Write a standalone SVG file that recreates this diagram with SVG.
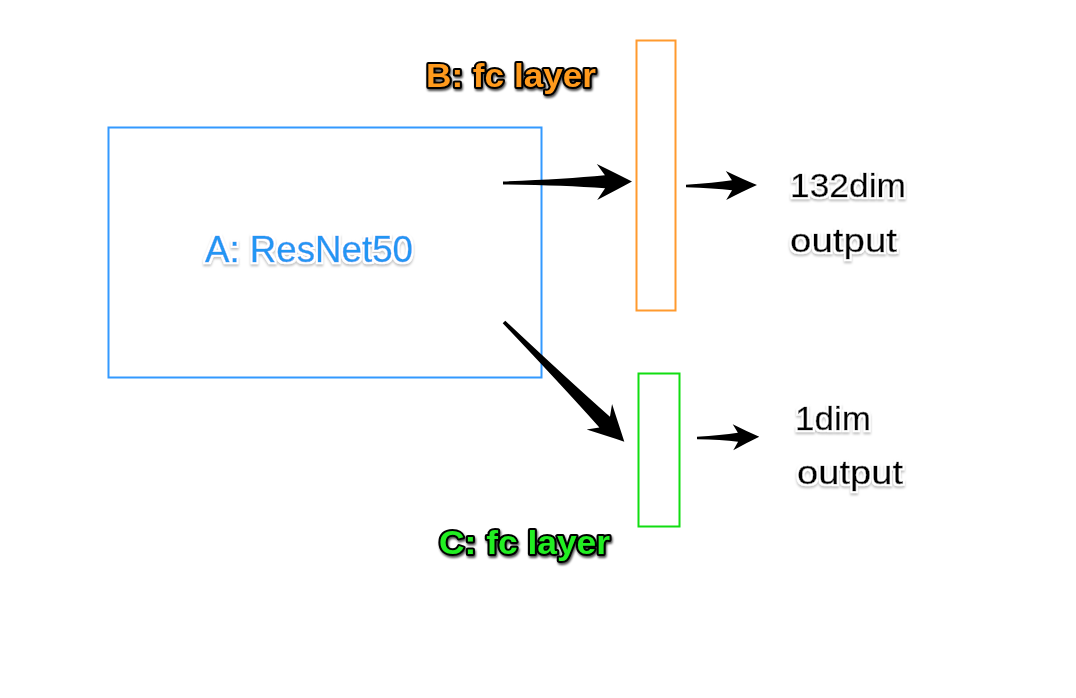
<svg xmlns="http://www.w3.org/2000/svg" width="1076" height="698" viewBox="0 0 1076 698">
<defs>
<filter id="halo" x="-10%" y="-30%" width="120%" height="160%">
<feMorphology in="SourceAlpha" operator="dilate" radius="2" result="d"/>
<feGaussianBlur in="d" stdDeviation="1" result="b"/>
<feOffset in="b" dx="0" dy="1.5" result="o"/>
<feFlood flood-color="#999" flood-opacity="0.6"/>
<feComposite in2="o" operator="in" result="sh"/>
<feFlood flood-color="#fff"/>
<feComposite in2="d" operator="in" result="wh"/>
<feMerge><feMergeNode in="sh"/><feMergeNode in="wh"/><feMergeNode in="SourceGraphic"/></feMerge>
</filter>
<filter id="dark" x="-10%" y="-30%" width="120%" height="160%">
<feGaussianBlur in="SourceAlpha" stdDeviation="1.2" result="b"/>
<feOffset in="b" dx="1" dy="2" result="o"/>
<feFlood flood-color="#000" flood-opacity="0.7"/>
<feComposite in2="o" operator="in" result="sh"/>
<feMerge><feMergeNode in="sh"/><feMergeNode in="SourceGraphic"/></feMerge>
</filter>
</defs>
<style>
.box{fill:none;stroke-width:2}
.t{font-family:"Liberation Sans",Arial,sans-serif}
.lab{font-weight:bold;font-size:34px;stroke:#000;stroke-width:4;stroke-linejoin:round;paint-order:stroke}
.out{font-size:34px;fill:#000;stroke:#000;stroke-width:0.4}
.arr{fill:#000}
</style>
<rect width="1076" height="698" fill="#fff"/>
<g id="nodeA">
<rect class="box" x="108.5" y="127.5" width="433" height="250" stroke="#3399ff"/>
<text class="t" x="205" y="262" font-size="36" fill="#2196f3" stroke="#2196f3" stroke-width="0.4" textLength="208" lengthAdjust="spacingAndGlyphs" filter="url(#halo)">A: ResNet50</text>
</g>
<g id="nodeB">
<rect class="box" x="636.5" y="40.5" width="39" height="270" stroke="#ff9a2e"/>
<text class="t lab" x="426" y="87" fill="#ff9a1e" textLength="170" lengthAdjust="spacingAndGlyphs" filter="url(#dark)">B: fc layer</text>
</g>
<g id="nodeC">
<rect class="box" x="638.5" y="373.5" width="41" height="153" stroke="#11dd11"/>
<text class="t lab" x="439" y="554" fill="#22ee22" textLength="171" lengthAdjust="spacingAndGlyphs" filter="url(#dark)">C: fc layer</text>
</g>
<g id="out132">
<text class="t out" x="790" y="197" textLength="116" lengthAdjust="spacingAndGlyphs" filter="url(#halo)">132dim</text>
<text class="t out" x="790" y="252" textLength="107" lengthAdjust="spacingAndGlyphs" filter="url(#halo)">output</text>
</g>
<g id="out1">
<text class="t out" x="795" y="430" textLength="76" lengthAdjust="spacingAndGlyphs" filter="url(#halo)">1dim</text>
<text class="t out" x="797" y="484" textLength="106" lengthAdjust="spacingAndGlyphs" filter="url(#halo)">output</text>
</g>
<g id="connectors">
<path class="arr" transform="translate(503,183) rotate(-0.67)" d="M0,-1.5 Q60,-3 102,-6.5 L94,-18 Q114,-8 129,0 Q114,8 94,18 L102,6.5 Q60,3 0,1.5 Z"/>
<path class="arr" transform="translate(686,186) rotate(-0.8)" d="M0,-1.3 Q28,-2.5 46,-5 L40,-14.5 Q57,-6 71,0 Q57,6 40,14.5 L46,5 Q28,2.5 0,1.3 Z"/>
<path class="arr" transform="translate(504,322) rotate(44.85)" d="M0,-1.8 Q80,-4 142,-7.5 L134.5,-18 Q154,-8 169.7,0 Q154,8 134.5,18 L142,7.5 Q80,4 0,1.8 Z"/>
<path class="arr" transform="translate(697,438) rotate(-1.2)" d="M0,-1.3 Q24,-2.3 41,-4.5 L36,-13 Q50,-5.5 62.3,0 Q50,5.5 36,13 L41,4.5 Q24,2.3 0,1.3 Z"/>
</g>
</svg>
